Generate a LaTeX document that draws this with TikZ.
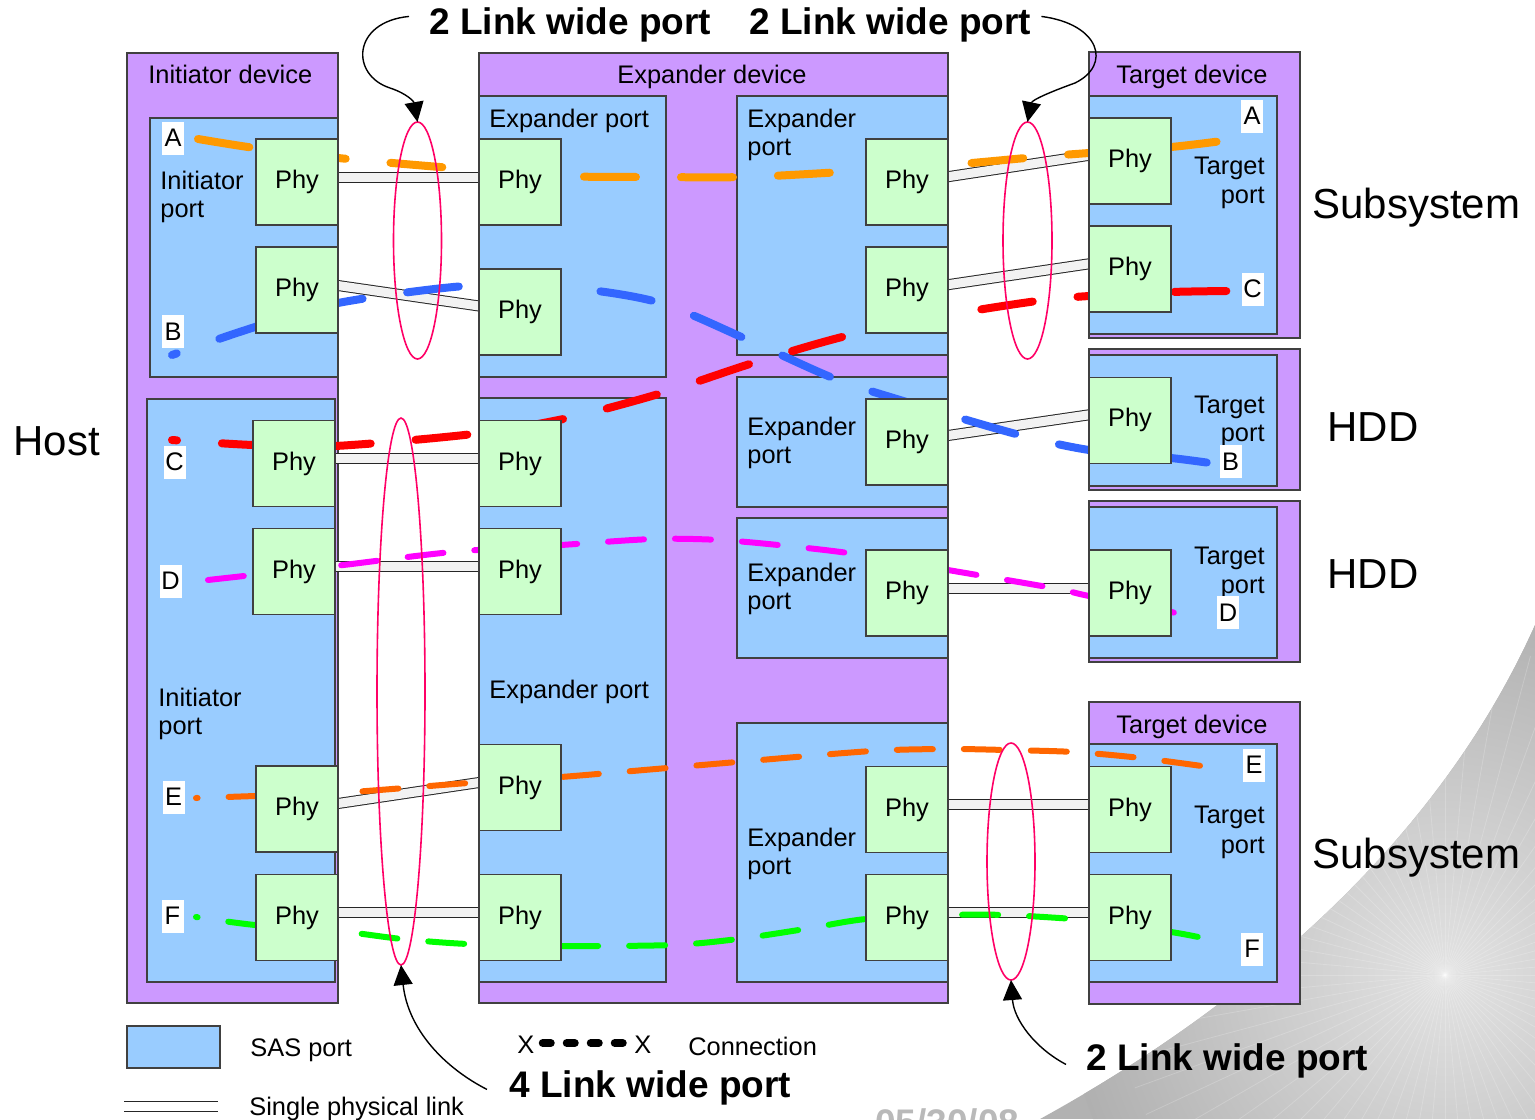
\documentclass[tikz,border=0pt]{standalone}
\usepackage{fontspec}
\usepackage{graphicx}
\setmainfont{Liberation Sans}
\usetikzlibrary{shapes.geometric,arrows.meta}
\definecolor{devc}{HTML}{CC99FF}
\definecolor{portc}{HTML}{99CCFF}
\definecolor{phyc}{HTML}{CCFFCC}
\definecolor{ellc}{HTML}{FF0066}
\definecolor{cA}{HTML}{FF9900}
\definecolor{cB}{HTML}{3366FF}
\definecolor{cC}{HTML}{FF0000}
\definecolor{cD}{HTML}{FF00FF}
\definecolor{cE}{HTML}{FF6600}
\definecolor{cF}{HTML}{00FF00}
\newcommand\body{\fontsize{12.7}{15}\selectfont}
\newcommand\bigf{\fontsize{21}{25}\selectfont}
\newcommand\boldf{\fontsize{18.5}{22}\selectfont\bfseries}
\newcommand\mkbox[6]{\node[#2, minimum width={(#5-#3)*0.5pt}, minimum height={(#6-#4)*0.5pt}] (#1) at ({(#3+#5)/2},{(#4+#6)/2}) {};}
\newcommand\mkphy[3]{\node[phybox] (#1) at (#2,#3) {Phy};}
\tikzset{
 devbox/.style={draw=black!75, line width=0.7pt, fill=devc, inner sep=0pt, outer sep=0pt},
 portbox/.style={draw=black!75, line width=0.7pt, fill=portc, inner sep=0pt, outer sep=0pt},
 phybox/.style={draw=black!75, line width=0.7pt, fill=phyc, inner sep=0pt, outer sep=0pt, minimum width=41pt, minimum height=43pt, font=\body},
 txt/.style={inner sep=0pt, font=\body},
 bigtxt/.style={inner sep=0pt, font=\bigf},
 boldtxt/.style={inner sep=0pt, font=\boldf},
 lbl/.style={fill=white, inner sep=0pt, minimum width=11pt, minimum height=16.5pt, font=\body},
 link/.style={draw=black!85, line width=0.5pt, double=gray!10, double distance=4.5pt},
 conthick/.style={line width=4pt, line cap=round, dash pattern=on 26pt off 22.5pt},
 conthin/.style={line width=3pt, line cap=round, dash pattern=on 18pt off 15.5pt},
 ring/.style={draw=ellc, line width=0.8pt, ellipse, inner sep=0pt, outer sep=0pt},
 arr/.style={draw=black, line width=0.7pt, -{Triangle[length=10pt,width=9.5pt]}},
}
\begin{document}
\begin{tikzpicture}[x=0.5pt,y=-0.5pt]
\useasboundingbox (0,0) rectangle (1535,1119);
% background swoosh
\begin{scope}
\clip (1040,1119) .. controls (1220,1020) and (1430,860) .. (1535,625) -- (1535,1119) -- cycle;
\fill[gray!60] (1000,600) rectangle (1535,1119);
\shade[inner color=gray!22, outer color=gray!62] (1445,975) circle[radius=380];
\foreach \a in {0,5,...,355}
  \draw[white, opacity=0.2, line width=0.4pt] (1445,975) -- ++(\a:330);
\end{scope}
\begin{scope}
\clip (0,0) rectangle (1535,1119);
\node[inner sep=0pt, anchor=base west, text=gray!55, font=\fontsize{18.5}{22}\selectfont\bfseries] (date) at (875,1135) {05/30/08};
\end{scope}
% devices
\mkbox{devI}{devbox}{127}{53}{338}{1003}
\mkbox{devE}{devbox}{479}{53}{948}{1003}
\mkbox{devT1}{devbox}{1089}{52}{1300}{338}
\mkbox{devT2}{devbox}{1089}{349}{1300}{490}
\mkbox{devT3}{devbox}{1089}{501}{1300}{662}
\mkbox{devT4}{devbox}{1089}{702}{1300}{1004}
% ports
\mkbox{portI1}{portbox}{150}{118}{338}{377}
\mkbox{portI2}{portbox}{147}{399}{335}{982}
\mkbox{portE1}{portbox}{479}{96}{666}{377}
\mkbox{portE2}{portbox}{479}{398}{666}{982}
\mkbox{portE3}{portbox}{737}{96}{948}{355}
\mkbox{portE4}{portbox}{737}{377}{948}{507}
\mkbox{portE5}{portbox}{737}{518}{948}{658}
\mkbox{portE6}{portbox}{737}{723}{948}{982}
\mkbox{portT1}{portbox}{1089}{96}{1277}{334}
\mkbox{portT2}{portbox}{1089}{355}{1277}{486}
\mkbox{portT3}{portbox}{1089}{507}{1277}{658}
\mkbox{portT4}{portbox}{1089}{744}{1277}{982}
% device and port texts
\node[txt, anchor=base west] (tdevI) at (148,83) {Initiator device};
\node[txt, anchor=base] (tdevE) at (712,83) {Expander device};
\node[txt, anchor=base west] (tdevT1) at (1116,83) {Target device};
\node[txt, anchor=base west] (tdevT4) at (1116,733) {Target device};
\node[txt, anchor=base west] (tpI1a) at (160,189) {Initiator};
\node[txt, anchor=base west] (tpI1b) at (160,217) {port};
\node[txt, anchor=base west] (tpI2a) at (158,706) {Initiator};
\node[txt, anchor=base west] (tpI2b) at (158,734) {port};
\node[txt, anchor=base west] (tpE1) at (489,127) {Expander port};
\node[txt, anchor=base west] (tpE2) at (489,698) {Expander port};
\node[txt, anchor=base west] (tpE3a) at (747,127) {Expander};
\node[txt, anchor=base west] (tpE3b) at (747,155) {port};
\node[txt, anchor=base west] (tpE4a) at (747,435) {Expander};
\node[txt, anchor=base west] (tpE4b) at (747,463) {port};
\node[txt, anchor=base west] (tpE5a) at (747,581) {Expander};
\node[txt, anchor=base west] (tpE5b) at (747,609) {port};
\node[txt, anchor=base west] (tpE6a) at (747,846) {Expander};
\node[txt, anchor=base west] (tpE6b) at (747,874) {port};
\node[txt, anchor=base east] (tpT1a) at (1265,174) {Target};
\node[txt, anchor=base east] (tpT1b) at (1265,203) {port};
\node[txt, anchor=base east] (tpT2a) at (1265,413) {Target};
\node[txt, anchor=base east] (tpT2b) at (1265,441) {port};
\node[txt, anchor=base east] (tpT3a) at (1265,564) {Target};
\node[txt, anchor=base east] (tpT3b) at (1265,593) {port};
\node[txt, anchor=base east] (tpT4a) at (1265,823) {Target};
\node[txt, anchor=base east] (tpT4b) at (1265,853) {port};
% physical links
\coordinate (pI1e) at (338,177); \coordinate (pE1w) at (479,177);
\coordinate (pI2e) at (338,285.5); \coordinate (pE2w) at (479,306);
\coordinate (pR1e) at (948,176.7); \coordinate (pT1w) at (1089,155.3);
\coordinate (pR2e) at (948,284.7); \coordinate (pT2w) at (1089,263.8);
\coordinate (pR3e) at (948,435.5); \coordinate (pT3w) at (1089,414.8);
\coordinate (pR4e) at (948,588); \coordinate (pT4w) at (1089,588);
\coordinate (pI3e) at (335,458); \coordinate (pE3w) at (479,458);
\coordinate (pI4e) at (335,566); \coordinate (pE4w) at (479,566);
\coordinate (pI5e) at (338,803.5); \coordinate (pE5w) at (479,782.5);
\coordinate (pI6e) at (338,912); \coordinate (pE6w) at (479,912);
\coordinate (pR5e) at (948,804); \coordinate (pT5w) at (1089,804);
\coordinate (pR6e) at (948,912.5); \coordinate (pT6w) at (1089,912.5);
\foreach \a/\b in {pI1e/pE1w, pI2e/pE2w, pR1e/pT1w, pR2e/pT2w, pR3e/pT3w, pR4e/pT4w, pI3e/pE3w, pI4e/pE4w, pI5e/pE5w, pI6e/pE6w, pR5e/pT5w, pR6e/pT6w}
  \draw[link] (\a) -- (\b);
% connections
\draw[conthick, cA] plot[smooth, tension=0.5] coordinates {(198,139) (255,148) (338,158) (452,168) (561,176) (650,177) (745,177) (842,172) (948,165) (1037,157) (1089,153) (1171,147) (1230,140)};
\draw[conthick, cB, dash phase=23.5pt] plot[smooth, tension=0.5] coordinates {(172,355) (255,327) (338,303) (465,286) (561,287) (657,302) (746,339) (833,378) (900,400) (1016,434) (1089,450) (1171,458) (1210,463)};
\draw[conthick, cC, dash phase=23.5pt] plot[smooth, tension=0.5] coordinates {(172,440) (253,445) (335,446) (473,434) (568,418) (662,393) (753,363) (846,336) (948,315) (1037,301) (1089,296) (1171,292) (1230,291)};
\draw[conthin, cD] plot[smooth, tension=0.5] coordinates {(208,580) (253,575) (335,566) (452,552) (561,545) (653,539) (720,540) (788,546) (855,554) (948,570) (1053,588) (1089,596) (1171,612) (1186,615)};
\draw[conthin, cE, dash phase=17.2pt] plot[smooth, tension=0.5] coordinates {(196,798) (255,796) (338,793) (468,783) (561,777) (737,762) (872,751) (948,749) (1006,750) (1074,752) (1141,758) (1209,767)};
\draw[conthin, cF, dash phase=17.2pt] plot[smooth, tension=0.5] coordinates {(196,917) (255,925) (338,931) (402,939) (468,944) (561,946) (672,945) (738,939) (805,929) (866,919) (948,915) (1006,915) (1074,919) (1089,921) (1171,932) (1208,939)};
% phy boxes
\mkphy{pI1}{297}{182}
\mkphy{pI2}{297}{290}
\mkphy{pI3}{294}{463.5}
\mkphy{pI4}{294}{571.5}
\mkphy{pI5}{297}{809}
\mkphy{pI6}{297}{917.5}
\mkphy{pE1}{520}{182}
\mkphy{pE2}{520}{312}
\mkphy{pE3}{520}{463.5}
\mkphy{pE4}{520}{571.5}
\mkphy{pE5}{520}{787.5}
\mkphy{pE6}{520}{917.5}
\mkphy{pR1}{907}{182}
\mkphy{pR2}{907}{290}
\mkphy{pR3}{907}{442}
\mkphy{pR4}{907}{593}
\mkphy{pR5}{907}{809.5}
\mkphy{pR6}{907}{917.5}
\mkphy{pT1}{1130}{161}
\mkphy{pT2}{1130}{269}
\mkphy{pT3}{1130}{420.3}
\mkphy{pT4}{1130}{593}
\mkphy{pT5}{1130}{809.5}
\mkphy{pT6}{1130}{917.5}
% endpoint labels
\node[lbl] (lA1) at (173,138) {A};
\node[lbl] (lB1) at (173,331.5) {B};
\node[lbl] (lC1) at (174.5,462) {C};
\node[lbl] (lD1) at (170.5,581) {D};
\node[lbl] (lE1) at (173.5,797) {E};
\node[lbl] (lF1) at (172.5,916) {F};
\node[lbl] (lA2) at (1252,116) {A};
\node[lbl] (lC2) at (1252.5,289) {C};
\node[lbl] (lB2) at (1230.5,461.5) {B};
\node[lbl] (lD2) at (1228,612.7) {D};
\node[lbl] (lE2) at (1254,765) {E};
\node[lbl] (lF2) at (1252,949) {F};
% wide port rings
\node[ring, minimum width=24pt, minimum height=118.5pt] (e1) at (417.5,240.5) {};
\node[ring, minimum width=24.5pt, minimum height=118.5pt] (e2) at (1027.5,240.5) {};
\node[ring, minimum width=24pt, minimum height=273.5pt] (e3) at (401,691.5) {};
\node[ring, minimum width=24pt, minimum height=118.5pt] (e4) at (1011,861.5) {};
% side labels
\node[bigtxt, anchor=base west] (host) at (13,455) {Host};
\node[bigtxt, anchor=base west] (sub1) at (1312,218) {Subsystem};
\node[bigtxt, anchor=base west] (hdd1) at (1327,441) {HDD};
\node[bigtxt, anchor=base west] (hdd2) at (1327,588) {HDD};
\node[bigtxt, anchor=base west] (sub2) at (1312,868) {Subsystem};
% wide port captions and arrows
\node[boldtxt, anchor=base west] (t1) at (429,34) {2 Link wide port};
\node[boldtxt, anchor=base west] (t2) at (749,34) {2 Link wide port};
\node[boldtxt, anchor=base west] (t3) at (509,1097) {4 Link wide port};
\node[boldtxt, anchor=base west] (t4) at (1086,1070) {2 Link wide port};
\draw[arr] ([xshift=-10pt,yshift=4pt]t1.west) .. controls (352,22) and (350,75) .. (390,88) .. controls (408,94) and (414,102) .. (e1.north);
\draw[arr] ([xshift=5pt,yshift=4pt]t2.east) .. controls (1100,24) and (1112,65) .. (1075,83) .. controls (1050,92) and (1032,100) .. (e2.north);
\draw[arr] ([xshift=-11pt,yshift=-1pt]t3.west) .. controls (445,1068) and (408,1030) .. (e3.south);
\draw[arr] ([xshift=-10pt,yshift=-2pt]t4.west) .. controls (1035,1048) and (1014,1020) .. (e4.south);
% legend
\mkbox{legport}{portbox}{127}{1026}{220}{1068}
\node[txt, anchor=base west] (legporttxt) at (250,1056) {SAS port};
\coordinate (legl1) at (124,1106); \coordinate (legl2) at (218,1106);
\draw[link, double=white] (legl1) -- (legl2);
\node[txt, anchor=base west] (leglinktxt) at (249,1115) {Single physical link};
\node[txt, anchor=base west] (legx1) at (517,1053) {X};
\node[txt, anchor=base west] (legx2) at (634,1053) {X};
\draw[line width=4pt, line cap=round, dash pattern=on 4pt off 8pt] ([xshift=4pt,yshift=5pt]legx1.base east) -- ([xshift=-3pt,yshift=5pt]legx2.base west);
\node[txt, anchor=base west] (legcontxt) at (688,1055) {Connection};
\end{tikzpicture}
\end{document}
